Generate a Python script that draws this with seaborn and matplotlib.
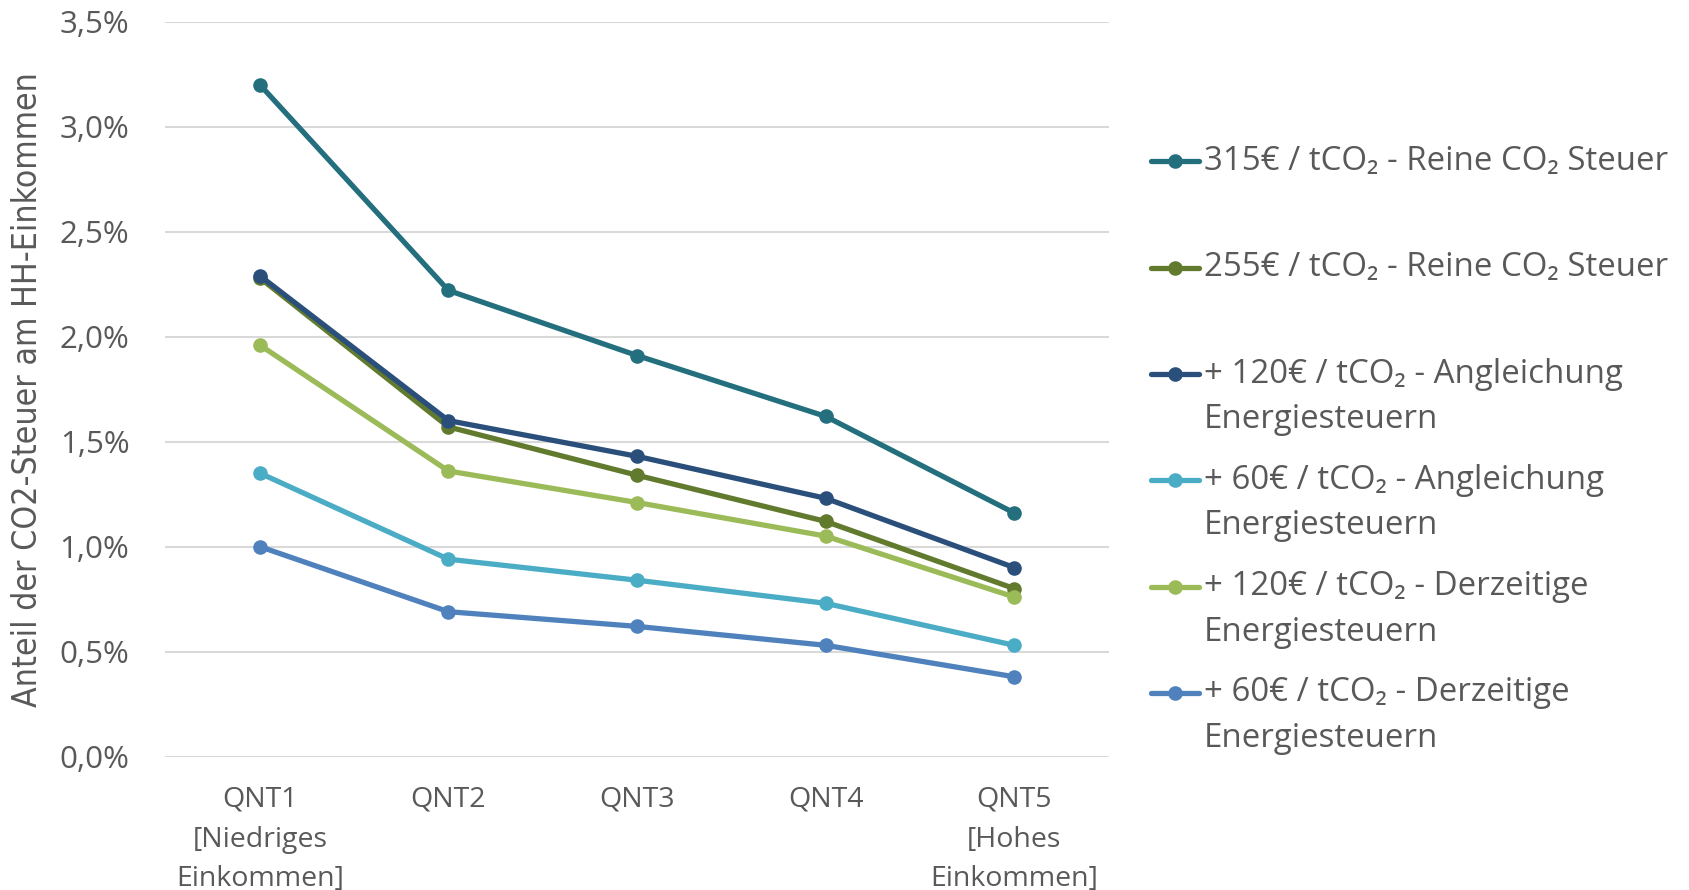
import numpy as np
import pandas as pd
import matplotlib
matplotlib.use("Agg")
import matplotlib.pyplot as plt
import seaborn as sns
from matplotlib.legend_handler import HandlerLine2D
from matplotlib.ticker import FuncFormatter

# Daten
quintile = ["QNT1", "QNT2", "QNT3", "QNT4", "QNT5"]
quintil_labels = ["QNT1\n[Niedriges\nEinkommen]", "QNT2", "QNT3", "QNT4",
                  "QNT5\n[Hohes\nEinkommen]"]

serien = [
    "315€ / tCO₂ - Reine CO₂ Steuer",
    "255€ / tCO₂ - Reine CO₂ Steuer",
    "+ 120€ / tCO₂ - Angleichung\nEnergiesteuern",
    "+ 60€ / tCO₂ - Angleichung\nEnergiesteuern",
    "+ 120€ / tCO₂ - Derzeitige\nEnergiesteuern",
    "+ 60€ / tCO₂ - Derzeitige\nEnergiesteuern",
]
werte_315 = [0.0320, 0.0222, 0.0191, 0.0162, 0.0116]
werte_255 = [0.0228, 0.0157, 0.0134, 0.0112, 0.0080]
werte_120_angl = [0.0229, 0.0160, 0.0143, 0.0123, 0.0090]
werte_60_angl = [0.0135, 0.0094, 0.0084, 0.0073, 0.0053]
werte_120_derz = [0.0196, 0.0136, 0.0121, 0.0105, 0.0076]
werte_60_derz = [0.0100, 0.0069, 0.0062, 0.0053, 0.0038]

farben = ["#246F7E", "#627A2E", "#2B4F7B", "#4BACC6", "#9BBB59", "#4F81BD"]

alle_werte = [werte_315, werte_255, werte_120_angl, werte_60_angl,
              werte_120_derz, werte_60_derz]
df = pd.DataFrame([
    {"Quintil": q, "Anteil": v, "Serie": s}
    for s, werte in zip(serien, alle_werte)
    for q, v in zip(quintile, werte)
])

sns.set_theme(style="white")
plt.rcParams["font.family"] = ["Open Sans", "DejaVu Sans"]
grau = "#595959"

fig = plt.figure(figsize=(16.9, 8.9), dpi=100)
ax = fig.add_axes([0.0979, 0.1499, 0.5581, 0.8258])

sns.lineplot(data=df, x="Quintil", y="Anteil", hue="Serie",
             hue_order=serien, palette=farben, marker="o", markersize=10.5,
             markeredgewidth=0, linewidth=3.8, sort=False, legend=False,
             ax=ax)
for line in ax.get_lines():
    line.set_clip_on(False)

ax.set_ylim(0, 0.035)
ax.set_xlim(-0.5, 4.5)
ax.set_yticks(np.arange(0, 0.0351, 0.005))
ax.yaxis.set_major_formatter(FuncFormatter(lambda v, _: f"{v*100:.1f}%".replace(".", ",")))
ax.set_xticks(range(len(quintile)))
ax.set_xticklabels(quintil_labels, fontsize=20.5, color=grau, linespacing=1.56)
ax.tick_params(axis="y", labelsize=22.5, labelcolor=grau, length=0, pad=26)
ax.tick_params(axis="x", length=0, pad=21)
ax.grid(axis="y", color="#D9D9D9", linewidth=1.5)
ax.set_axisbelow(True)
for sp in ax.spines.values():
    sp.set_visible(False)
ax.set_xlabel("")
ax.set_ylabel("Anteil der CO2-Steuer am HH-Einkommen", fontsize=24.2, color=grau,
              family=["DejaVu Sans"], stretch="condensed", labelpad=11)


class ErsteZeileHandler(HandlerLine2D):
    # Legendensymbol auf Höhe der ersten Textzeile setzen
    def create_artists(self, legend, orig_handle, xdescent, ydescent,
                       width, height, fontsize, trans):
        arts = super().create_artists(legend, orig_handle, xdescent, ydescent,
                                      width, height, fontsize, trans)
        for a in arts:
            a.set_ydata(np.asarray(a.get_ydata()) + 0.72 * fontsize)
        return arts


handles = ax.get_lines()[:len(serien)]
labels = [s if "\n" in s else s + "\n " for s in serien]
leg = fig.legend(handles, labels, loc="upper left",
                 bbox_to_anchor=(0.681, 0.837), frameon=False, fontsize=23.8,
                 handlelength=1.45, handletextpad=0.15, labelspacing=0.84,
                 borderpad=0, borderaxespad=0,
                 handler_map={h: ErsteZeileHandler() for h in handles})
for t in leg.get_texts():
    t.set_color(grau)
    t.set_linespacing(1.5)

fig.savefig("out.png", dpi=100)
